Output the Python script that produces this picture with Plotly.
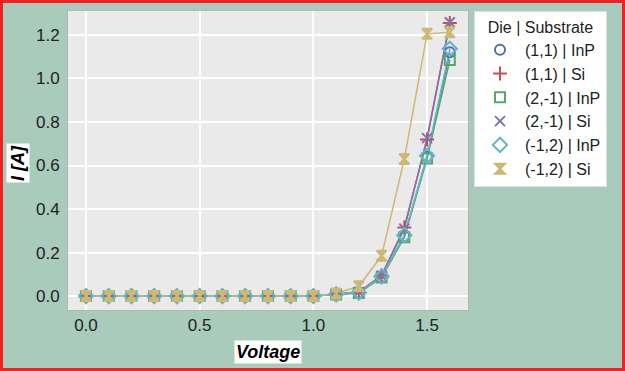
import plotly.graph_objects as go

voltage = [0.0, 0.1, 0.2, 0.3, 0.4, 0.5, 0.6, 0.7, 0.8, 0.9, 1.0, 1.1, 1.2, 1.3, 1.4, 1.5, 1.6]

names = ["(1,1) | InP", "(1,1) | Si", "(2,-1) | InP", "(2,-1) | Si", "(-1,2) | InP", "(-1,2) | Si"]
zeros = [0.0] * 11
i_11_inp = zeros + [0.008, 0.015, 0.088, 0.275, 0.640, 1.120]
i_11_si = zeros + [0.008, 0.018, 0.095, 0.315, 0.720, 1.255]
i_2m1_inp = zeros + [0.007, 0.014, 0.085, 0.270, 0.632, 1.085]
i_2m1_si = zeros + [0.008, 0.018, 0.093, 0.310, 0.726, 1.258]
i_m12_inp = zeros + [0.008, 0.016, 0.090, 0.280, 0.645, 1.136]
i_m12_si = zeros + [0.012, 0.045, 0.185, 0.630, 1.205, 1.212]
series = [i_11_inp, i_11_si, i_2m1_inp, i_2m1_si, i_m12_inp, i_m12_si]

colors = ["#4C72B0", "#C44E52", "#55A868", "#8172B2", "#64B5CD", "#CCB974"]
symbols = ["circle-open", "cross-thin-open", "square-open", "x-thin-open", "diamond-open", "hourglass"]
sizes = [10, 10, 10, 10, 11, 10]

fig = go.Figure()
for name, ys, c in zip(names, series, colors):
    fig.add_trace(go.Scatter(
        x=voltage, y=ys, mode="lines", showlegend=False, hoverinfo="skip",
        line=dict(color=c, width=1.5),
    ))
for name, ys, c, s, sz in zip(names, series, colors, symbols, sizes):
    fig.add_trace(go.Scatter(
        x=voltage, y=ys, name=name, mode="markers",
        marker=dict(symbol=s, size=sz, color=c, line=dict(color=c, width=2)),
    ))

L, R, T, B = 68, 157, 11, 61
W, H = 625, 371
pw, ph = W - L - R, H - T - B

fig.update_layout(
    width=W, height=H,
    margin=dict(l=L, r=R, t=T, b=B, pad=0, autoexpand=False),
    paper_bgcolor="#A9CBBB",
    plot_bgcolor="#EAEAEA",
    font=dict(family="Liberation Sans, Arial, sans-serif", size=16, color="#222"),
    showlegend=True,
    legend=dict(
        title=dict(text="Die | Substrate", font=dict(size=16, color="#222"), side="top center"),
        x=(474 - L) / pw, y=(H - B - 11) / ph, xanchor="left", yanchor="top",
        bgcolor="white", bordercolor="#e0e0e0", borderwidth=1,
        font=dict(size=16, color="#222"), tracegroupgap=0, itemwidth=40,
    ),
    xaxis=dict(
        range=[-0.079, 1.68], tickvals=[0.0, 0.5, 1.0, 1.5], ticktext=["0.0", "0.5", "1.0", "1.5"],
        showgrid=True, gridcolor="white", gridwidth=2, zeroline=False,
        showline=True, linecolor="#b5b5b5", linewidth=1, mirror=True, ticks="",
        tickfont=dict(size=17), ticklabelstandoff=0,
    ),
    yaxis=dict(
        range=[-0.064, 1.310], tickvals=[0.0, 0.2, 0.4, 0.6, 0.8, 1.0, 1.2],
        ticktext=["0.0", "0.2", "0.4", "0.6", "0.8", "1.0", "1.2"],
        showgrid=True, gridcolor="white", gridwidth=2, zeroline=False,
        showline=True, linecolor="#b5b5b5", linewidth=1, mirror=True, ticks="",
        tickfont=dict(size=17), ticklabelstandoff=4,
    ),
    annotations=[
        dict(text="<b><i>Voltage</i></b>", xref="paper", yref="paper",
             x=0.5, y=(H - B - 352) / ph, xanchor="center", yanchor="middle",
             showarrow=False, bgcolor="white", borderpad=1, font=dict(size=18, color="black")),
        dict(text="<b><i>I [A]</i></b>", xref="paper", yref="paper",
             x=(18 - L) / pw, y=(H - B - 163) / ph, xanchor="center", yanchor="middle",
             textangle=-90, showarrow=False, bgcolor="white", borderpad=1,
             font=dict(size=18, color="black")),
    ],
    shapes=[
        dict(type="rect", xref="paper", yref="paper",
             x0=(1.5 - L) / pw, x1=(W - 1.5 - L) / pw,
             y0=(H - B - (H - 1.5)) / ph, y1=(H - B - 1.5) / ph,
             line=dict(color="#EE2222", width=3), layer="above"),
    ],
)

fig.write_html("out.html", config={"displayModeBar": False},
               post_script="document.body.style.margin='0px';document.body.style.padding='0px';")
